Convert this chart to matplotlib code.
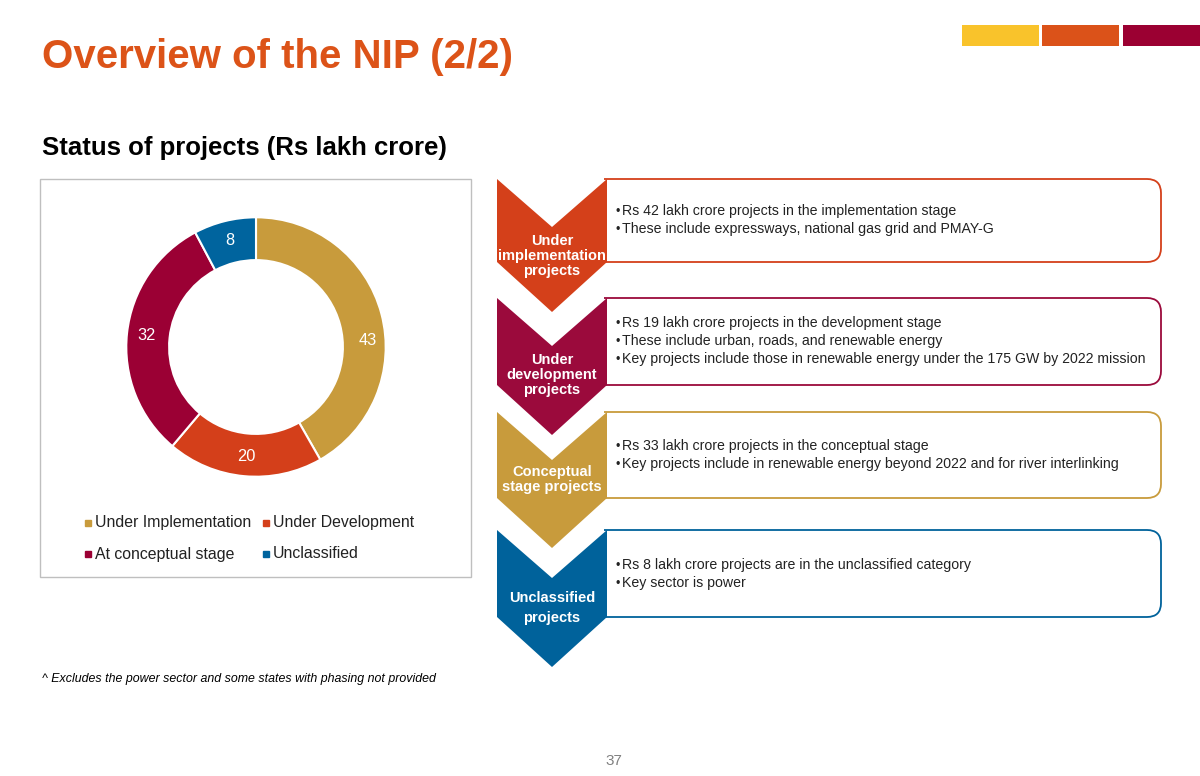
import numpy as np
import matplotlib.pyplot as plt
from matplotlib.patches import Polygon, PathPatch, Rectangle
from matplotlib.path import Path

plt.rcParams['font.family'] = ['Liberation Sans', 'DejaVu Sans']

# donut data (Rs lakh crore)
categories = ['Under Implementation', 'Under Development', 'At conceptual stage', 'Unclassified']
values = [43, 20, 32, 8]
colors = ['#C89B3C', '#D43F1A', '#9B0034', '#00649E']

# stage panels
stage_titles = ['Under\nimplementation\nprojects', 'Under\ndevelopment\nprojects',
                'Conceptual\nstage projects', 'Unclassified\nprojects']
stage_bullets = [
    ['Rs 42 lakh crore projects in the implementation stage',
     'These include expressways, national gas grid and PMAY-G'],
    ['Rs 19 lakh crore projects in the development stage',
     'These include urban, roads, and renewable energy',
     'Key projects include those in renewable energy under the 175 GW by 2022 mission'],
    ['Rs 33 lakh crore projects in the conceptual stage',
     'Key projects include in renewable energy beyond 2022 and for river interlinking'],
    ['Rs 8 lakh crore projects are in the unclassified category',
     'Key sector is power'],
]
stage_colors = ['#D4401A', '#9B0A3C', '#C89B3C', '#00629B']

fig = plt.figure(figsize=(12, 7.76), dpi=100)
bg = fig.add_axes([0, 0, 1, 1])
bg.set_xlim(0, 1200)
bg.set_ylim(776, 0)
bg.axis('off')

# title area
bg.text(42, 57, 'Overview of the NIP (2/2)', fontsize=29, fontweight='bold',
        color='#DC5318', va='center', ha='left')
for x0, c in zip([962, 1042, 1123], ['#F9C32B', '#DB5219', '#9B0032']):
    bg.add_patch(Rectangle((x0, 25), 77, 21, color=c, lw=0))
bg.text(42, 148, 'Status of projects (Rs lakh crore)', fontsize=18.5, fontweight='bold',
        color='black', va='center', ha='left')

# chart frame
bg.add_patch(Rectangle((40, 179), 431, 398, fill=False, ec='#BFBFBF', lw=1))

# legend
leg_pos = [(88, 523), (266, 523), (88, 554), (266, 554)]
for (lx, ly), name, c in zip(leg_pos, categories, colors):
    bg.plot(lx, ly, marker='s', ms=5, color=c, ls='none')
    bg.text(lx + 7, ly, name, fontsize=11.4, va='center', ha='left', color='#222222')

# stage chevrons and boxes
tops = [179, 298, 412, 530]
bottoms = [262, 385, 498, 617]
label_y = [256, 375, 479.5, 608]
label_spacing = [1.1, 1.1, 1.15, 1.5]
xl, xr, xc = 497, 607, 552
box_right, r = 1161, 14
for i, (title, bullets, c) in enumerate(zip(stage_titles, stage_bullets, stage_colors)):
    t, b = tops[i], bottoms[i]
    # rounded box, square on the left (hidden by the chevron)
    verts = [(604, t), (box_right - r, t), (box_right, t), (box_right, t + r),
             (box_right, b - r), (box_right, b), (box_right - r, b), (604, b)]
    codes = [Path.MOVETO, Path.LINETO, Path.CURVE3, Path.CURVE3,
             Path.LINETO, Path.CURVE3, Path.CURVE3, Path.LINETO]
    bg.add_patch(PathPatch(Path(verts, codes), fill=False, ec=c, lw=1.3, zorder=2))
    chev = [(xl, t), (xc, t + 48), (xr, t), (xr, b), (xc, b + 50), (xl, b)]
    bg.add_patch(Polygon(chev, closed=True, color=c, lw=0, zorder=3))
    bg.text(xc, label_y[i], title, fontsize=10.5, fontweight='bold', color='white',
            ha='center', va='center', linespacing=label_spacing[i], zorder=4)
    mid = (t + b) / 2
    n = len(bullets)
    for j, line in enumerate(bullets):
        y = mid + (j - (n - 1) / 2) * 18 + 4
        bg.text(615, y, '•', fontsize=9, va='baseline', ha='left', color='#222222')
        bg.text(622, y, line, fontsize=10.2, va='baseline', ha='left', color='#222222')

# footnote and page number
bg.text(42, 679, '^ Excludes the power sector and some states with phasing not provided',
        fontsize=8.9, style='italic', va='center', ha='left', color='black')
bg.text(614, 761, '37', fontsize=11, color='#808080', va='center', ha='center')

# donut
cx, cy, R = 256, 347, 131
ax = fig.add_axes([(cx - R) / 1200, (776 - cy - R) / 776, 2 * R / 1200, 2 * R / 776])
total = sum(values)
wedges, texts, autotexts = ax.pie(
    values, colors=colors, startangle=90, counterclock=False, radius=1,
    wedgeprops=dict(width=0.33, edgecolor='white', linewidth=1.5),
    autopct=lambda p: f'{p * total / 100:.0f}', pctdistance=0.85,
    textprops=dict(color='white', fontsize=11.8))
# the largest label sits lower on the ring in the original
autotexts[0].set_position((0.86, 0.05))
ax.set_xlim(-1.01, 1.01)
ax.set_ylim(-1.01, 1.01)
ax.set_aspect('equal')
ax.axis('off')

fig.savefig('out.png', dpi=100)
